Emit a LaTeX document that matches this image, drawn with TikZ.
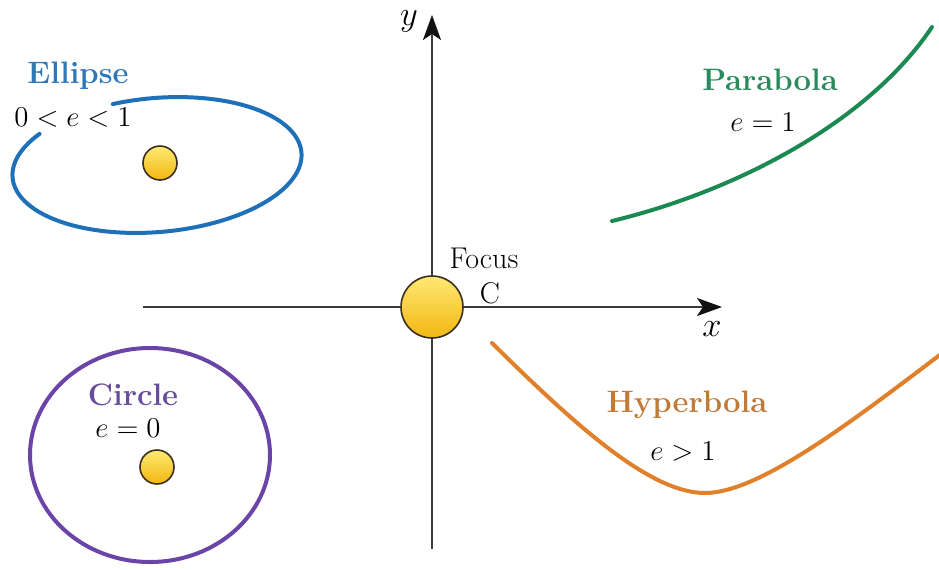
\documentclass[tikz,border=0pt]{standalone}
\usetikzlibrary{arrows.meta}
\definecolor{axisc}{HTML}{3A3A3A}
\definecolor{arrowc}{HTML}{111111}
\definecolor{ellc}{HTML}{1E70B8}
\definecolor{elltxt}{HTML}{2F78B8}
\definecolor{parc}{HTML}{1A8A52}
\definecolor{partxt}{HTML}{2A8A5C}
\definecolor{hypc}{HTML}{E0802A}
\definecolor{hyptxt}{HTML}{C07A3A}
\definecolor{circc}{HTML}{6A44A6}
\definecolor{circtxt}{HTML}{6A4C9C}
\definecolor{sunedge}{HTML}{3A3020}
\definecolor{suntop}{HTML}{FFE972}
\definecolor{sunbot}{HTML}{F2B612}
\tikzset{
  sun/.style={circle,draw=sunedge,line width=0.8pt,top color=suntop,bottom color=sunbot,inner sep=0pt},
  axisline/.style={draw=axisc,line width=1pt,-{Stealth[length=12.5pt,width=9pt,inset=3pt,color=arrowc]}},
  curve/.style={line width=2pt,line cap=round},
  title/.style={font=\fontsize{15.5}{17}\selectfont\bfseries,inner sep=0pt},
  eq/.style={font=\fontsize{15.5}{17}\selectfont,inner sep=0pt,text=black},
}
\begin{document}
\begin{tikzpicture}[x=0.5pt,y=-0.5pt]
\useasboundingbox (0,0) rectangle (939,569);
% axes
\coordinate (ybot) at (432,549);
\coordinate (ytop) at (432,15);
\coordinate (xleft) at (143,307);
\coordinate (xright) at (722,307);
\draw[axisline] (ybot) -- (ytop);
\draw[axisline] (xleft) -- (xright);
\node[font=\fontsize{17}{19}\selectfont\itshape,inner sep=0pt] (ylab) at (409,21) {$y$};
\node[font=\fontsize{17}{19}\selectfont,inner sep=0pt] (xlab) at (712,329) {$x$};
% focus
\node[sun,minimum size=31pt] (focus) at (432,307) {};
\node[font=\fontsize{15}{17}\selectfont,inner sep=0pt] (focustxt) at (484,258) {Focus};
\node[font=\fontsize{15}{17}\selectfont,inner sep=0pt] (ctxt) at (490,293) {C};
% ellipse
\draw[curve,ellc] plot[smooth,domain=142:465.5,samples=120,variable=\t]
  ({157 + 145*cos(\t)*cos(5) - 67*sin(\t)*sin(5)},{165 - (145*cos(\t)*sin(5) + 67*sin(\t)*cos(5))});
\node[sun,minimum size=17pt] (sunE) at (160,163) {};
\node[title,text=elltxt] (elltitle) at (78,76) {Ellipse};
\node[eq] (elleq) at (73,118) {$0<e<1$};
% circle
\draw[curve,circc] (150,455) ellipse [x radius=120,y radius=107];
\node[sun,minimum size=17pt] (sunC) at (157,467) {};
\node[title,text=circtxt] (circtitle) at (133,395) {Circle};
\node[eq] (circeq) at (128,428) {$e=0$};
% parabola
\coordinate (pa) at (612,221);
\coordinate (pb) at (932,27);
\draw[curve,parc] (pa) .. controls (740,190) and (870,120) .. (pb);
\node[title,text=partxt] (partitle) at (770,80) {Parabola};
\node[eq] (pareq) at (763,122) {$e=1$};
% hyperbola
\coordinate (ha) at (492,343);
\coordinate (hm) at (705,493);
\coordinate (hb) at (945,351);
\begin{scope}
\clip (0,0) rectangle (939,569);
\draw[curve,hypc] (ha) .. controls (575,425) and (650,493) .. (hm) .. controls (760,493) and (855,419) .. (hb);
\end{scope}
\node[title,text=hyptxt] (hyptitle) at (687,405) {Hyperbola};
\node[eq] (hypeq) at (683,452) {$e>1$};
\end{tikzpicture}
\end{document}
